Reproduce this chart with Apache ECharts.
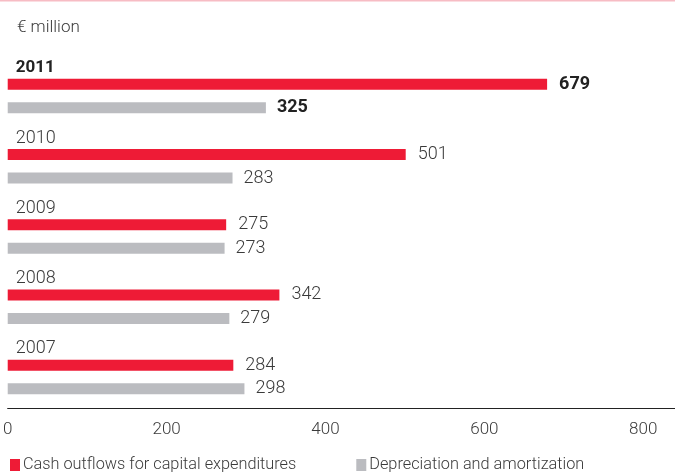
<!DOCTYPE html>
<html>
<head>
<meta charset="utf-8">
<script src="https://cdn.jsdelivr.net/npm/echarts@6/dist/echarts.min.js"></script>
<style>
  html, body { margin: 0; padding: 0; background: #fff; }
  #chart { width: 675px; height: 472px; }
</style>
</head>
<body>
<div id="chart"></div>
<script>
const years = ['2011', '2010', '2009', '2008', '2007']
const capex = [679, 501, 275, 342, 284]
const depreciation = [325, 283, 273, 279, 298]
const xTicks = [0, 200, 400, 600, 800]

const RED = '#ee1b36'
const GREY = '#bbbcc0'
const FONT = 'Roboto'

var chart = echarts.init(document.getElementById('chart'))

function valueLabel(params) {
  return params.dataIndex === 0 ? '{b|' + params.value + '}' : '{n|' + params.value + '}'
}
const labelRich = {
  b: { fontFamily: FONT, fontSize: 18, fontWeight: 'bold', color: '#222' },
  n: { fontFamily: FONT, fontSize: 18, fontWeight: 300, color: '#3a3a3a' }
}

var option = {
  animation: false,
  title: {
    text: '€ million',
    left: 12,
    top: 14,
    textStyle: { fontFamily: FONT, fontSize: 17, fontWeight: 300, color: '#3a3a3a' }
  },
  graphic: [
    { type: 'rect', left: 0, top: 0, shape: { width: 675, height: 1.5 }, style: { fill: '#f7bcc4' } }
  ],
  legend: {
    left: 5,
    top: 452,
    itemWidth: 10,
    itemHeight: 12,
    itemGap: 60,
    icon: 'rect',
    textStyle: { fontFamily: FONT, fontSize: 16.3, fontWeight: 300, color: '#3a3a3a', padding: [0, 0, 0, -2] },
    data: ['Cash outflows for capital expenditures', 'Depreciation and amortization']
  },
  grid: { left: 7, right: 0, top: 61, bottom: 60 },
  xAxis: {
    type: 'value',
    min: 0,
    max: 840,
    interval: 200,
    offset: -4,
    splitLine: { show: false },
    axisTick: { show: false },
    axisLine: { show: true, lineStyle: { color: '#222', width: 1.2 } },
    axisLabel: {
      margin: 13,
      showMaxLabel: false,
      fontFamily: FONT,
      fontSize: 17,
      fontWeight: 300,
      color: '#3a3a3a',
      formatter: function (v) { return xTicks.indexOf(v) >= 0 ? String(v) : '' }
    }
  },
  yAxis: {
    type: 'category',
    inverse: true,
    data: years,
    axisLine: { show: false },
    axisTick: { show: false },
    axisLabel: {
      inside: true,
      margin: 8,
      verticalAlign: 'middle',
      padding: [0, 0, 56, 0],
      formatter: function (v, i) { return i === 0 ? '{b|' + v + '}' : '{n|' + v + '}' },
      rich: {
        b: { fontFamily: FONT, fontSize: 17, fontWeight: 'bold', color: '#222' },
        n: { fontFamily: FONT, fontSize: 18, fontWeight: 300, color: '#3a3a3a' }
      }
    }
  },
  series: [
    {
      name: 'Cash outflows for capital expenditures',
      type: 'bar',
      data: capex,
      barWidth: 11,
      barGap: '114%',
      itemStyle: { color: RED },
      label: { show: true, position: 'right', distance: 12, formatter: valueLabel, rich: labelRich }
    },
    {
      name: 'Depreciation and amortization',
      type: 'bar',
      data: depreciation,
      barWidth: 11,
      itemStyle: { color: GREY },
      label: { show: true, position: 'right', distance: 11, formatter: valueLabel, rich: labelRich }
    }
  ]
}

chart.setOption(option)
</script>
</body>
</html>
